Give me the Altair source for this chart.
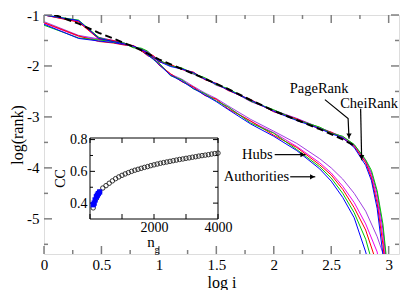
import altair as alt
import pandas as pd

FONT = "'Liberation Serif', 'Times New Roman', Times, serif"

# ---------------- main curves ----------------
XU = [0, 0.301, 0.477, 0.602, 0.699, 0.778, 0.845, 0.903, 0.954, 1.0, 1.1, 1.2, 1.3, 1.4,
      1.5, 1.6, 1.8, 2.0, 2.2, 2.4, 2.5, 2.6, 2.7, 2.8, 2.85, 2.9, 2.95, 3.0]
U_RED = [-1.00, -1.14, -1.47, -1.50, -1.58, -1.60, -1.70, -1.75, -1.80, -1.92, -1.97, -2.07, -2.12, -2.27,
         -2.34, -2.48, -2.66, -2.90, -3.04, -3.24, -3.30, -3.42, -3.58, -3.90, -4.20, -4.70, -5.50, -6.6]
U_GREEN = [-1.00, -1.10, -1.44, -1.53, -1.55, -1.64, -1.65, -1.71, -1.84, -1.88, -2.00, -2.04, -2.15, -2.23,
           -2.37, -2.44, -2.69, -2.86, -3.06, -3.20, -3.32, -3.38, -3.54, -3.84, -4.05, -4.45, -5.10, -6.2]
U_BLUE = [-1.00, -1.11, -1.46, -1.52, -1.57, -1.61, -1.68, -1.74, -1.83, -1.91, -2.01, -2.06, -2.13, -2.26,
          -2.35, -2.47, -2.67, -2.89, -3.07, -3.23, -3.33, -3.41, -3.60, -3.95, -4.25, -4.80, -5.70, -6.8]
U_VIOLET = [-1.00, -1.13, -1.44, -1.50, -1.56, -1.63, -1.66, -1.72, -1.81, -1.89, -1.98, -2.06, -2.16, -2.24,
            -2.38, -2.45, -2.70, -2.87, -3.03, -3.21, -3.30, -3.39, -3.55, -3.86, -4.10, -4.50, -5.20, -6.3]
U_MAGENTA = [-1.00, -1.12, -1.46, -1.51, -1.57, -1.62, -1.69, -1.73, -1.82, -1.90, -1.99, -2.05, -2.14, -2.25,
             -2.36, -2.46, -2.68, -2.88, -3.05, -3.22, -3.31, -3.40, -3.57, -3.88, -4.15, -4.60, -5.35, -6.5]

XL = [0, 0.301, 0.477, 0.602, 0.699, 0.778, 0.845, 0.903, 0.954, 1.0, 1.1, 1.2, 1.3, 1.4,
      1.5, 1.6, 1.8, 2.0, 2.2, 2.4, 2.5, 2.6, 2.7, 2.8, 2.9, 3.0]
L_RED = [-1.15, -1.41, -1.52, -1.55, -1.59, -1.60, -1.70, -1.80, -1.84, -1.98, -2.15, -2.31, -2.41, -2.58,
         -2.65, -2.84, -3.08, -3.36, -3.60, -3.94, -4.14, -4.42, -4.78, -5.22, -5.90, -7.0]
L_GREEN = [-1.20, -1.45, -1.49, -1.52, -1.56, -1.64, -1.66, -1.76, -1.88, -1.94, -2.19, -2.27, -2.45, -2.54,
           -2.69, -2.80, -3.12, -3.32, -3.64, -3.98, -4.20, -4.50, -4.88, -5.40, -6.2, -7.0]
L_BLUE = [-1.18, -1.46, -1.51, -1.54, -1.58, -1.61, -1.69, -1.79, -1.87, -1.97, -2.18, -2.30, -2.44, -2.57,
          -2.70, -2.85, -3.14, -3.38, -3.66, -4.02, -4.26, -4.58, -4.98, -5.65, -6.5, -7.0]
L_MAGENTA = [-1.16, -1.42, -1.48, -1.52, -1.55, -1.63, -1.67, -1.77, -1.85, -1.95, -2.16, -2.28, -2.42, -2.55,
             -2.66, -2.81, -3.09, -3.31, -3.58, -3.90, -4.10, -4.36, -4.68, -5.10, -5.65, -7.0]
L_VIOLET = [-1.13, -1.40, -1.47, -1.51, -1.56, -1.61, -1.67, -1.77, -1.85, -1.95, -2.16, -2.26, -2.40, -2.53,
            -2.64, -2.78, -3.05, -3.28, -3.52, -3.82, -4.00, -4.22, -4.50, -4.85, -5.35, -6.0]

XD = [0, 0.301, 0.477, 0.602, 0.699, 0.778, 0.845, 0.903, 1.0, 1.2, 1.4, 1.6, 1.8, 2.0, 2.2, 2.4, 2.6, 2.7]
D_BLACK = [-0.92, -1.17, -1.35, -1.46, -1.55, -1.62, -1.69, -1.76, -1.87, -2.06, -2.25, -2.45, -2.67, -2.88,
           -3.06, -3.24, -3.44, -3.56]

# drawing order: later names are drawn on top
SERIES_NAMES = ["l_magenta", "l_violet", "l_red", "l_green", "l_blue",
                "u_violet", "u_magenta", "u_red", "u_green", "u_blue"]
SERIES_COLORS = ["#ee00ee", "#a040e0", "#ff0000", "#00c800", "#0000ff",
                 "#9400d3", "#ee00ee", "#ff0000", "#00c800", "#0000ff"]
SERIES_DATA = {"u_red": U_RED, "u_green": U_GREEN, "u_blue": U_BLUE, "u_violet": U_VIOLET,
               "u_magenta": U_MAGENTA, "l_red": L_RED, "l_green": L_GREEN, "l_blue": L_BLUE,
               "l_magenta": L_MAGENTA, "l_violet": L_VIOLET}

# ---------------- inset ----------------
NG = [100, 200, 300, 400, 500, 600, 700, 800, 900, 1000, 1100, 1200, 1300, 1400, 1500, 1600, 1700, 1800,
      1900, 2000, 2100, 2200, 2300, 2400, 2500, 2600, 2700, 2800, 2900, 3000, 3100, 3200, 3300, 3400,
      3500, 3600, 3700, 3800, 3900, 4000]
CC = [0.37, 0.43, 0.47, 0.495, 0.51, 0.525, 0.54, 0.554, 0.565, 0.575, 0.584, 0.592, 0.60, 0.607, 0.613,
      0.619, 0.625, 0.63, 0.636, 0.641, 0.646, 0.651, 0.655, 0.659, 0.663, 0.667, 0.671, 0.675, 0.678,
      0.682, 0.685, 0.689, 0.692, 0.696, 0.699, 0.702, 0.705, 0.709, 0.712, 0.715]
NG_SQ = [100, 130, 160, 200, 230, 260, 300]
CC_SQ = [0.39, 0.40, 0.42, 0.44, 0.45, 0.46, 0.47]

# ---------------- axes ticks ----------------
X_MAJOR = [0, 0.5, 1, 1.5, 2, 2.5, 3]
X_MINOR = [0.25, 0.75, 1.25, 1.75, 2.25, 2.75]
Y_MAJOR = [-1, -2, -3, -4, -5]
Y_MINOR = [-1.5, -2.5, -3.5, -4.5, -5.5]
IX_MAJOR = [0, 2000, 4000]
IX_MINOR = [1000, 3000]
IY_MAJOR = [0.4, 0.6, 0.8]
IY_MINOR = [0.5, 0.7]

# ---------------- annotations ----------------
ANN_TEXT = ["PageRank", "CheiRank", "Hubs", "Authorities"]
ANN_X = [2.395, 2.83, 1.857, 1.849]
ANN_Y = [-2.46, -2.75, -3.74, -4.175]

W, H = 355, 239
GREY = "#808080"

rows = []
for name in SERIES_NAMES:
    ys = SERIES_DATA[name]
    xs = XU if name.startswith("u_") else XL
    for i, (x, y) in enumerate(zip(xs, ys)):
        rows.append({"series": name, "x": x, "y": y, "i": i})
df_lines = pd.DataFrame(rows)
df_dash = pd.DataFrame({"x": XD, "y": D_BLACK, "i": list(range(len(XD)))})


def XS():
    return alt.Scale(domain=[0, 3.09], nice=False, zero=False)


def YS():
    return alt.Scale(domain=[-5.69, -1], nice=False, zero=False)


x_axis = alt.Axis(values=X_MAJOR, format="~g", title="log i", orient="bottom",
                  domain=False, ticks=False, grid=False, labelFlush=False,
                  labelOverlap=False, labelPadding=3, labelFontSize=15, titleFontSize=16,
                  titlePadding=2, labelFont=FONT, titleFont=FONT, titleFontWeight="normal",
                  labelColor="black", titleColor="black")
y_axis = alt.Axis(values=Y_MAJOR, labelExpr="'-' + abs(datum.value)", title="log(rank)", orient="left",
                  domain=False, ticks=False, grid=False,
                  labelOverlap=False, labelPadding=5, labelFontSize=15, titleFontSize=16,
                  titlePadding=1, labelFont=FONT, titleFont=FONT, titleFontWeight="normal",
                  labelColor="black", titleColor="black")

lines = alt.Chart(df_lines).mark_line(strokeWidth=1, clip=True).encode(
    x=alt.X("x:Q", scale=XS(), axis=x_axis),
    y=alt.Y("y:Q", scale=YS(), axis=y_axis),
    color=alt.Color("series:N", scale=alt.Scale(domain=SERIES_NAMES, range=SERIES_COLORS), legend=None),
    detail="series:N",
    order="i:Q",
)
dash = alt.Chart(df_dash).mark_line(strokeWidth=2, color="black", strokeDash=[7, 4], clip=True).encode(
    x=alt.X("x:Q", scale=XS(), axis=None),
    y=alt.Y("y:Q", scale=YS(), axis=None),
    order="i:Q",
)


def xticks(vals, length):
    d = pd.DataFrame({"v": vals})
    bot = alt.Chart(d).mark_rule(color=GREY, strokeWidth=1.5).encode(
        x=alt.X("v:Q", scale=XS(), axis=None), y=alt.value(H), y2=alt.value(H - length))
    top = alt.Chart(d).mark_rule(color=GREY, strokeWidth=1.5).encode(
        x=alt.X("v:Q", scale=XS(), axis=None), y=alt.value(0), y2=alt.value(length))
    return [bot, top]


def yticks(vals, length):
    d = pd.DataFrame({"v": vals})
    left = alt.Chart(d).mark_rule(color=GREY, strokeWidth=1.5).encode(
        y=alt.Y("v:Q", scale=YS(), axis=None), x=alt.value(0), x2=alt.value(length))
    right = alt.Chart(d).mark_rule(color=GREY, strokeWidth=1.5).encode(
        y=alt.Y("v:Q", scale=YS(), axis=None), x=alt.value(W), x2=alt.value(W - length))
    return [left, right]


tick_layers = xticks(X_MAJOR, 8) + xticks(X_MINOR, 4) + yticks(Y_MAJOR, 8) + yticks(Y_MINOR, 4)

df_ann = pd.DataFrame({"t": ANN_TEXT, "x": ANN_X, "y": ANN_Y})
ann_text = alt.Chart(df_ann).mark_text(font=FONT, fontSize=14.5, color="black").encode(
    x=alt.X("x:Q", scale=XS(), axis=None), y=alt.Y("y:Q", scale=YS(), axis=None), text="t:N")

ARROW_ID = ["pr", "pr", "pr", "cr", "cr", "hb", "hb", "au", "au"]
ARROW_X = [2.445, 2.647, 2.655, 2.756, 2.765, 2.008, 2.277, 2.143, 2.361]
ARROW_Y = [-2.66, -3.03, -3.43, -2.84, -3.85, -3.74, -3.74, -4.175, -4.175]
df_arrow = pd.DataFrame({"id": ARROW_ID, "x": ARROW_X, "y": ARROW_Y, "i": list(range(len(ARROW_X)))})
arrows = alt.Chart(df_arrow).mark_line(color="black", strokeWidth=1.2).encode(
    x=alt.X("x:Q", scale=XS(), axis=None), y=alt.Y("y:Q", scale=YS(), axis=None),
    detail="id:N", order="i:Q")

HEAD_X = [2.655, 2.765, 2.252, 2.336]
HEAD_Y = [-3.37, -3.79, -3.74, -4.175]
HEAD_SHAPE = ["triangle-down", "triangle-down", "triangle-right", "triangle-right"]
df_head = pd.DataFrame({"x": HEAD_X, "y": HEAD_Y, "s": HEAD_SHAPE})
heads = alt.Chart(df_head).mark_point(filled=True, color="black", size=28, opacity=1).encode(
    x=alt.X("x:Q", scale=XS(), axis=None), y=alt.Y("y:Q", scale=YS(), axis=None),
    shape=alt.Shape("s:N", scale=None, legend=None))

# ---------------- inset layers ----------------
IL, IR, IT, IB = 46, 174, 123, 204


def ISX():
    return alt.Scale(domain=[0, 4000], range=[IL, IR], nice=False, zero=False)


def ISY():
    return alt.Scale(domain=[0.3, 0.81], range=[IB, IT], nice=False, zero=False)


frame = alt.Chart(pd.DataFrame({"x": [0], "x2": [4000], "y": [0.3], "y2": [0.81]})).mark_rect(
    fill="white", stroke="black", strokeWidth=1).encode(
    x=alt.X("x:Q", scale=ISX(), axis=None), x2="x2:Q",
    y=alt.Y("y:Q", scale=ISY(), axis=None), y2="y2:Q")


def ixticks(vals, length):
    d = pd.DataFrame({"v": vals})
    return [alt.Chart(d).mark_rule(color="black", strokeWidth=1).encode(
                x=alt.X("v:Q", scale=ISX(), axis=None), y=alt.value(IB), y2=alt.value(IB - length)),
            alt.Chart(d).mark_rule(color="black", strokeWidth=1).encode(
                x=alt.X("v:Q", scale=ISX(), axis=None), y=alt.value(IT), y2=alt.value(IT + length))]


def iyticks(vals, length):
    d = pd.DataFrame({"v": vals})
    return [alt.Chart(d).mark_rule(color="black", strokeWidth=1).encode(
                y=alt.Y("v:Q", scale=ISY(), axis=None), x=alt.value(IL), x2=alt.value(IL + length)),
            alt.Chart(d).mark_rule(color="black", strokeWidth=1).encode(
                y=alt.Y("v:Q", scale=ISY(), axis=None), x=alt.value(IR), x2=alt.value(IR - length))]


inset_ticks = ixticks(IX_MAJOR, 5) + ixticks(IX_MINOR, 5) + iyticks(IY_MAJOR, 5) + iyticks(IY_MINOR, 3)

ix_axis = alt.Axis(values=[2000, 4000], format="d", title=None, orient="bottom",
                   domain=False, ticks=False, grid=False,
                   labelFlush=False, labelOverlap=False, offset=-(H - IB), labelPadding=1,
                   labelFontSize=14, labelFont=FONT, labelColor="black")
iy_axis = alt.Axis(values=IY_MAJOR, format=".1f", title=None, orient="left",
                   domain=False, ticks=False, grid=False,
                   labelOverlap=False, offset=-IL, labelPadding=3,
                   labelFontSize=14, labelFont=FONT, labelColor="black")

circles = alt.Chart(pd.DataFrame({"ng": NG, "cc": CC})).mark_point(
    shape="circle", filled=False, color="#222222", size=20, strokeWidth=0.9, opacity=1).encode(
    x=alt.X("ng:Q", scale=ISX(), axis=ix_axis), y=alt.Y("cc:Q", scale=ISY(), axis=iy_axis))
squares = alt.Chart(pd.DataFrame({"ng": NG_SQ, "cc": CC_SQ})).mark_point(
    shape="square", filled=True, color="#0000ff", size=28, opacity=1).encode(
    x=alt.X("ng:Q", scale=ISX(), axis=None), y=alt.Y("cc:Q", scale=ISY(), axis=None))

INSET_TITLES = ["CC", "n", "g"]
df_it = pd.DataFrame({"t": INSET_TITLES})
ICX = (IL + IR) / 2
t_cc = alt.Chart(df_it[df_it.t == "CC"]).mark_text(font=FONT, fontSize=14, angle=270, color="black").encode(
    x=alt.value(IL - 29), y=alt.value((IT + IB) / 2), text="t:N")
t_n = alt.Chart(df_it[df_it.t == "n"]).mark_text(font=FONT, fontSize=15, color="black").encode(
    x=alt.value(ICX - 3), y=alt.value(IB + 23), text="t:N")
t_g = alt.Chart(df_it[df_it.t == "g"]).mark_text(font=FONT, fontSize=10, color="black").encode(
    x=alt.value(ICX + 3), y=alt.value(IB + 31), text="t:N")

chart = alt.layer(
    lines, dash, *tick_layers, arrows, heads, ann_text,
    frame, *inset_ticks, circles, squares, t_cc, t_n, t_g
).resolve_scale(x="independent", y="independent").properties(
    width=W, height=H,
    autosize=alt.AutoSizeParams(type="none"),
    padding={"left": 36, "top": 7, "right": 2, "bottom": 36},
).configure_view(stroke=GREY, strokeWidth=2).configure(
    background="white", font=FONT
).configure_axis(labelFont=FONT, titleFont=FONT)

chart.save("out.html", embed_options={"renderer": "svg", "actions": False})
